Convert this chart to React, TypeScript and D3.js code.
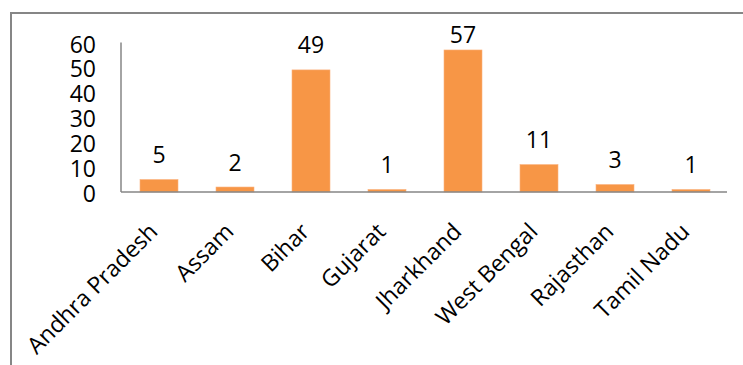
import React from "react";
import * as d3 from "d3";

const categories = ["Andhra Pradesh", "Assam", "Bihar", "Gujarat", "Jharkhand", "West Bengal", "Rajasthan", "Tamil Nadu"];
const values = [5, 2, 49, 1, 57, 11, 3, 1];
const yTicks = [0, 10, 20, 30, 40, 50, 60];

const W = 743;
const H = 365;
const FONT = "'Open Sans', sans-serif";
const FS = 23;

export default function App() {
  const x = d3.scaleBand<string>().domain(categories).range([121, 729]).paddingInner(0.5).paddingOuter(0.25);
  const y = d3.scaleLinear().domain([0, 60]).range([192, 42.5]);
  const bw = x.bandwidth();
  return (
    <svg width={W} height={H} style={{ position: "absolute", left: 0, top: 0, display: "block", background: "#fff" }}>
      <rect x={11} y={13} width={W} height={H} fill="#fff" stroke="#868686" strokeWidth={2} />
      {categories.map((c, i) => (
        <rect key={c} x={x(c)!} y={y(values[i])} width={bw} height={y(0) - y(values[i])} fill="#F79646" stroke="#FAB27E" strokeWidth={0.6} />
      ))}
      <line x1={121} x2={121} y1={y(60)} y2={y(0)} stroke="#868686" strokeWidth={1.5} />
      <line x1={121} x2={727} y1={y(0)} y2={y(0)} stroke="#868686" strokeWidth={1.5} />
      {yTicks.map((t) => (
        <text key={t} x={96} y={y(t) + 2} dy="0.35em" textAnchor="end" fontFamily={FONT} fontSize={FS} fill="#000">
          {t}
        </text>
      ))}
      {categories.map((c, i) => (
        <text key={"v" + c} x={x(c)! + bw / 2} y={Math.max(y(values[i]) - 16.5, 42.5)} textAnchor="middle" fontFamily={FONT} fontSize={FS} fill="#000">
          {values[i]}
        </text>
      ))}
      {categories.map((c) => (
        <text key={"l" + c} transform={`translate(${x(c)! + bw / 2},233) rotate(-45)`} textAnchor="end" fontFamily={FONT} fontSize={FS} fill="#000">
          {c}
        </text>
      ))}
    </svg>
  );
}
